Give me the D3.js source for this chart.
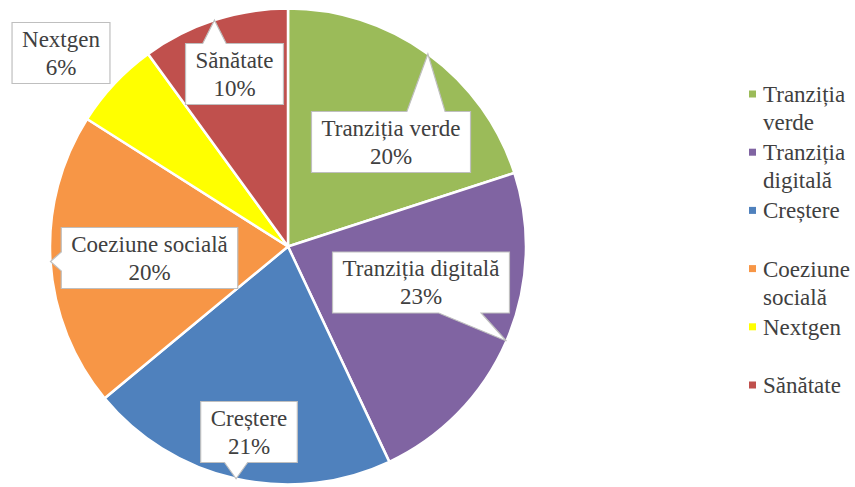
<!DOCTYPE html>
<html>
<head>
<meta charset="utf-8">
<script src="https://cdn.jsdelivr.net/npm/d3@7"></script>
</head>
<body style="margin:0">
<script>
// ---- data ----
const categories = ["Tranziția verde", "Tranziția digitală", "Creștere", "Coeziune socială", "Nextgen", "Sănătate"];
const values = [20, 23, 21, 20, 6, 10];
const colors = ["#9BBB59", "#8064A2", "#4F81BD", "#F79646", "#FFFF00", "#C0504D"];
const percentLabels = ["20%", "23%", "21%", "20%", "6%", "10%"];

// ---- layout (label box centres relative to pie centre; pointer flag) ----
const labelOffsets = [[103, -104.5], [133, 36], [-39, 185.5], [-138.5, 11.5], [-227, -193.5], [-53.5, -172.5]];
const hasPointer = [true, true, true, true, false, true];

const W = 855, H = 487;
const cx = 288, cy = 246.5, R = 238;
const fontSize = 23;
const textColor = "#404040";

const svg = d3.select("body").append("svg").attr("width", W).attr("height", H)
  .style("font-family", "'Times New Roman'");

const pie = d3.pie().sort(null).value(d => d);
const arcs = pie(values);
const arc = d3.arc().innerRadius(0).outerRadius(R);

const g = svg.append("g").attr("transform", `translate(${cx},${cy})`);
g.selectAll("path.slice").data(arcs).enter().append("path")
  .attr("d", arc)
  .attr("fill", (d, i) => colors[i])
  .attr("stroke", "#ffffff")
  .attr("stroke-width", 2.5)
  .attr("stroke-linejoin", "round");

// ---- callout labels ----
arcs.forEach((a, i) => {
  const grp = g.append("g");
  const [ox, oy] = labelOffsets[i];
  const t1 = grp.append("text").attr("x", ox).attr("text-anchor", "middle")
    .style("font-family", "'Times New Roman'")
    .attr("font-size", fontSize).attr("fill", textColor).text(categories[i]);
  const t2 = grp.append("text").attr("x", ox).attr("text-anchor", "middle")
    .style("font-family", "'Times New Roman'")
    .attr("font-size", fontSize).attr("fill", textColor).text(percentLabels[i]);
  const tw = Math.max(t1.node().getComputedTextLength(), t2.node().getComputedTextLength());
  const bw = tw + 20, bh = 61;
  const x0 = ox - bw / 2, y0 = oy - bh / 2, x1 = x0 + bw, y1 = y0 + bh;
  t1.attr("y", y0 + 24);
  t2.attr("y", y0 + 52);

  let pathD;
  if (hasPointer[i]) {
    const mid = (a.startAngle + a.endAngle) / 2;
    const tx = R * Math.sin(mid), ty = -R * Math.cos(mid);
    const clamp = (v, lo, hi) => Math.max(lo, Math.min(hi, v));
    if (ty < y0) {
      const half = bw * 0.12;
      const c = clamp(tx, x0 + bw * 0.16 + half, x1 - bw * 0.16 - half);
      pathD = `M${x0},${y0}L${c - half},${y0}L${tx},${ty}L${c + half},${y0}L${x1},${y0}L${x1},${y1}L${x0},${y1}Z`;
    } else if (ty > y1) {
      const half = bw * 0.12;
      const c = clamp(tx, x0 + bw * 0.16 + half, x1 - bw * 0.16 - half);
      pathD = `M${x0},${y0}L${x1},${y0}L${x1},${y1}L${c + half},${y1}L${tx},${ty}L${c - half},${y1}L${x0},${y1}Z`;
    } else if (tx < x0) {
      const half = bh * 0.155;
      const c = clamp(ty, y0 + half + 4, y1 - half - 4);
      pathD = `M${x0},${y0}L${x1},${y0}L${x1},${y1}L${x0},${y1}L${x0},${c + half}L${tx},${ty}L${x0},${c - half}Z`;
    } else {
      const half = bh * 0.155;
      const c = clamp(ty, y0 + half + 4, y1 - half - 4);
      pathD = `M${x0},${y0}L${x1},${y0}L${x1},${c - half}L${tx},${ty}L${x1},${c + half}L${x1},${y1}L${x0},${y1}Z`;
    }
  } else {
    pathD = `M${x0},${y0}L${x1},${y0}L${x1},${y1}L${x0},${y1}Z`;
  }
  grp.insert("path", "text").attr("d", pathD)
    .attr("fill", "#ffffff").attr("stroke", "#bfbfbf").attr("stroke-width", 1.2);
});

// ---- legend ----
const legendX = 749, legendY0 = 94, legendStep = 58.2, lineH = 28;
categories.forEach((c, i) => {
  const yc = legendY0 + i * legendStep;
  svg.append("rect").attr("x", legendX).attr("y", yc - 3.5).attr("width", 7).attr("height", 7)
    .attr("fill", colors[i]);
  c.split(" ").forEach((w, k) => {
    svg.append("text").attr("x", legendX + 14).attr("y", yc + 8 + k * lineH)
      .style("font-family", "'Times New Roman'")
      .attr("font-size", fontSize).attr("fill", textColor).text(w);
  });
});
</script>
</body>
</html>
